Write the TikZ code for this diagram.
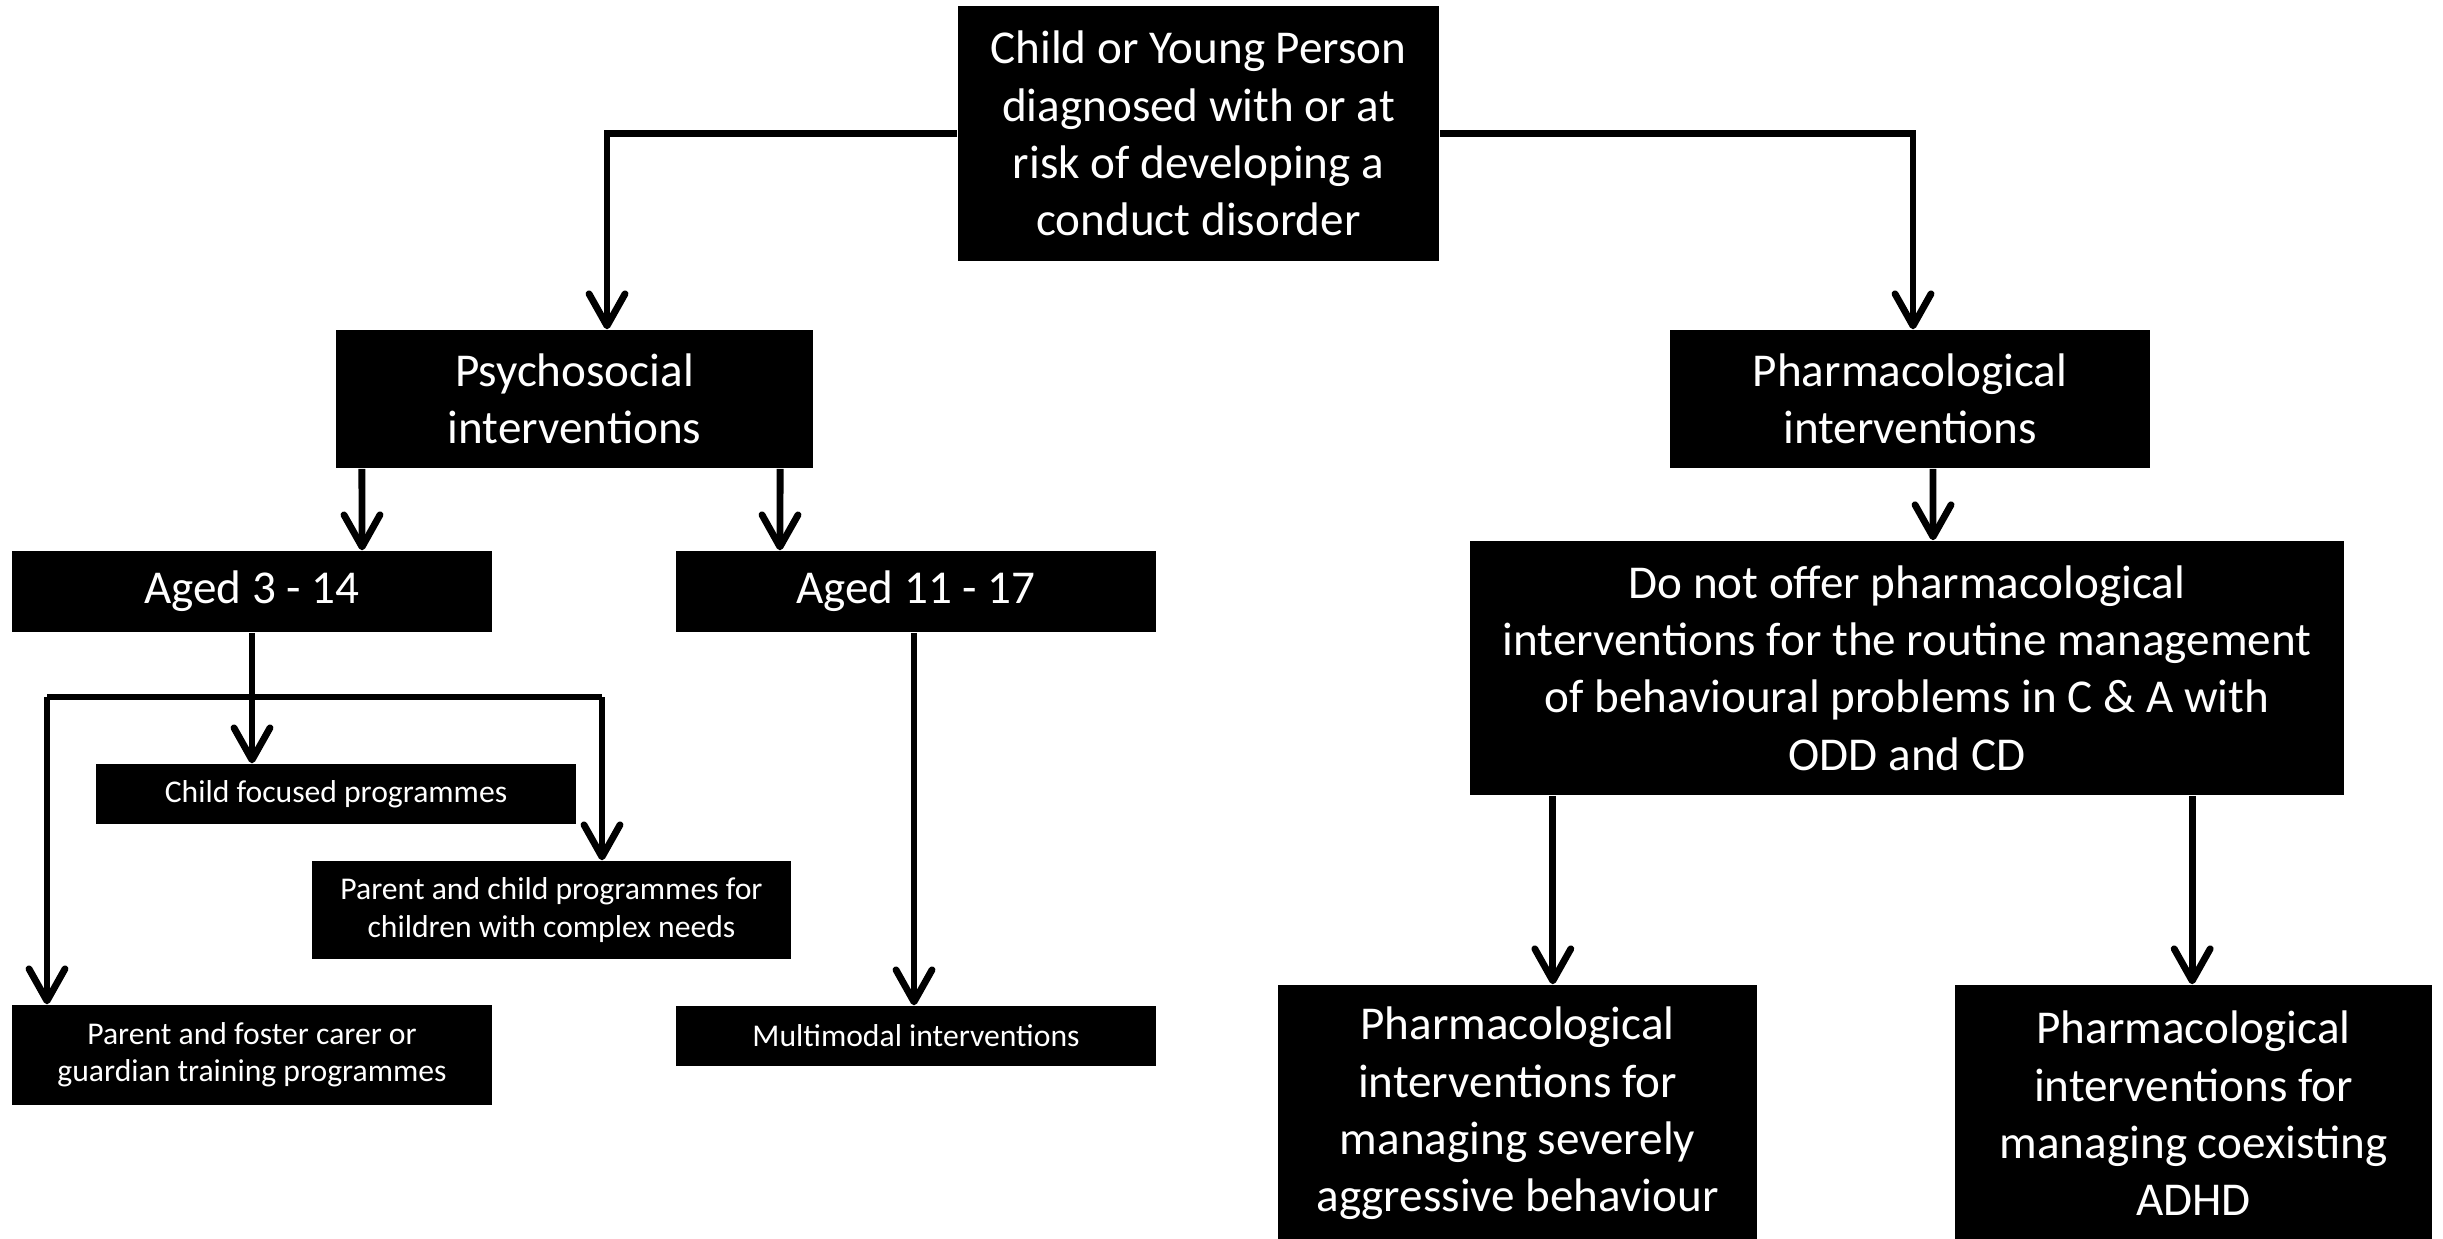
\documentclass[tikz,border=0pt]{standalone}
\usepackage{fontspec}
\setmainfont{Carlito}
\usetikzlibrary{arrows.meta}
\tikzset{
  box/.style={fill=black, text=white, inner sep=0pt, align=center},
  big/.style={font=\fontsize{13.4}{16.3}\selectfont},
  small/.style={font=\fontsize{9}{10.6}\selectfont},
  arr/.style={line width=1.95pt, -{Straight Barb[length=3.2mm,width=3.6mm,line cap=round,line join=round]}},
  ln/.style={line width=1.95pt}
}
\begin{document}
\begin{tikzpicture}[x=0.01cm,y=-0.01cm]
\useasboundingbox (0,0) rectangle (2443,1238);
\node[box,big,minimum width=4.81cm,minimum height=2.55cm] (top) at (1198.5,133.5)
  {Child or Young Person\\diagnosed with or at\\risk of developing a\\conduct disorder};
\node[box,big,minimum width=4.77cm,minimum height=1.38cm] (psy) at (574.5,399)
  {Psychosocial\\interventions};
\node[box,big,minimum width=4.80cm,minimum height=1.38cm] (pharm) at (1910,399)
  {Pharmacological\\interventions};
\node[box,big,minimum width=4.80cm,minimum height=0.81cm] (aged1) at (252,591.5)
  {Aged 3 - 14};
\node[box,big,minimum width=4.80cm,minimum height=0.81cm] (aged2) at (916,591.5)
  {Aged 11 - 17};
\node[box,big,minimum width=8.74cm,minimum height=2.54cm] (donot) at (1907,668)
  {Do not offer pharmacological\\interventions for the routine management\\of behavioural problems in C \& A with\\ODD and CD};
\node[box,small,minimum width=4.80cm,minimum height=0.60cm] (child) at (336,794)
  {Child focused programmes};
\node[box,small,minimum width=4.79cm,minimum height=0.98cm] (parchild) at (551.5,910)
  {Parent and child programmes for\\children with complex needs};
\node[box,small,minimum width=4.80cm,minimum height=1.00cm] (foster) at (252,1055)
  {Parent and foster carer or\\guardian training programmes};
\node[box,small,minimum width=4.80cm,minimum height=0.60cm] (multi) at (916,1036)
  {Multimodal interventions};
\node[box,big,minimum width=4.79cm,minimum height=2.57cm] (severe) at (1517.5,1113.5)
  {Pharmacological\\interventions for\\managing severely\\aggressive behaviour};
\node[box,big,minimum width=4.77cm,minimum height=2.57cm] (adhd) at (2193.5,1113.5)
  {Pharmacological\\interventions for\\managing coexisting\\ADHD};
% connectors
\draw[arr] (top.west) -| ([xshift=0.325cm]psy.north);
\draw[arr] (top.east) -| ([xshift=0.03cm]pharm.north);
\draw[arr] ([xshift=-2.125cm]psy.south) -- ([xshift=1.1cm]aged1.north);
\draw[arr] ([xshift=2.055cm]psy.south) -- ([xshift=-1.36cm]aged2.north);
\draw[arr] ([xshift=0.23cm]pharm.south) -- ([xshift=0.26cm]donot.north);
\coordinate (br) at (252,697);
\coordinate (brL) at (47,697);
\coordinate (brR) at (602,697);
\draw[ln] (aged1.south) -- (br);
\draw[ln] (brL) -- (brR);
\draw[arr] (br) -- (br |- child.north);
\draw[arr] (brR) -- (brR |- parchild.north);
\draw[arr] (brL) -- (brL |- foster.north);
\draw[arr] ([xshift=-0.02cm]aged2.south) -- ([xshift=-0.02cm]multi.north);
\draw[arr] ([xshift=-3.54cm]donot.south) -- ([xshift=-3.54cm]donot.south |- severe.north);
\draw[arr] ([xshift=2.85cm]donot.south) -- ([xshift=2.85cm]donot.south |- adhd.north);
\end{tikzpicture}
\end{document}
